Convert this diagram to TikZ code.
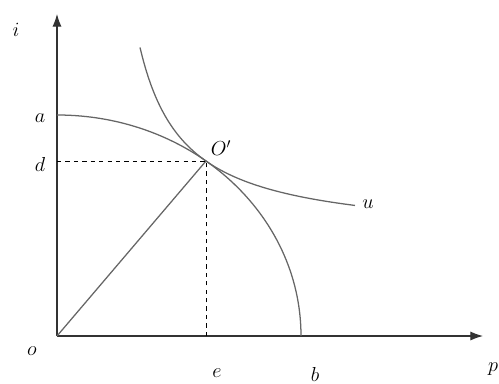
\documentclass[tikz,border=0pt]{standalone}
\usepackage{amsmath,amssymb}
\usepackage{tikz}
\usetikzlibrary{arrows.meta}

\begin{document}
\begin{tikzpicture}[>={Latex[length=9pt,width=6.5pt]}, x=0.025cm, y=0.025cm,
  lbl/.style={font=\fontsize{14}{16}\selectfont},
  curve/.style={draw=black!60, line width=0.9pt}]
\useasboundingbox (-57,-47) rectangle (442,336);
\coordinate (o) at (0,0);
\coordinate (itop) at (0,322);
\coordinate (pend) at (426,0);
\coordinate (aa) at (0,221);
\coordinate (bb) at (244,0);
\coordinate (dd) at (0,175);
\coordinate (ee) at (149,0);
\coordinate (opt) at (149,175);
% axes
\draw[->, line width=0.8pt, black!80] (o) -- (itop);
\draw[->, line width=0.8pt, black!80] (o) -- (pend);
% frontier and indifference curve
\draw[curve] (aa) arc[start angle=90, end angle=0, x radius=244, y radius=221];
\draw[curve] plot[domain=83:298, samples=60, smooth] (\x, {97.5+8597/(\x-38)});
\draw[curve] (o) -- (opt);
% projections
\draw[dashed, line width=0.6pt] (dd) -- (opt);
\draw[dashed, line width=0.6pt] (ee) -- (opt);
% labels
\node[lbl] (li) at (-41,306) {$i$};
\node[lbl] (la) at (-17,218) {$a$};
\node[lbl] (ld) at (-17,172) {$d$};
\node[lbl] (lo) at (-25,-15) {$o$};
\node[lbl] (le) at (160,-37) {$e$};
\node[lbl] (lb) at (258,-38) {$b$};
\node[lbl] (lp) at (436,-33) {$p$};
\node[lbl] (lu) at (311,132) {$u$};
\node[lbl] (lopt) at (164,188) {$O'$};
\end{tikzpicture}
\end{document}
